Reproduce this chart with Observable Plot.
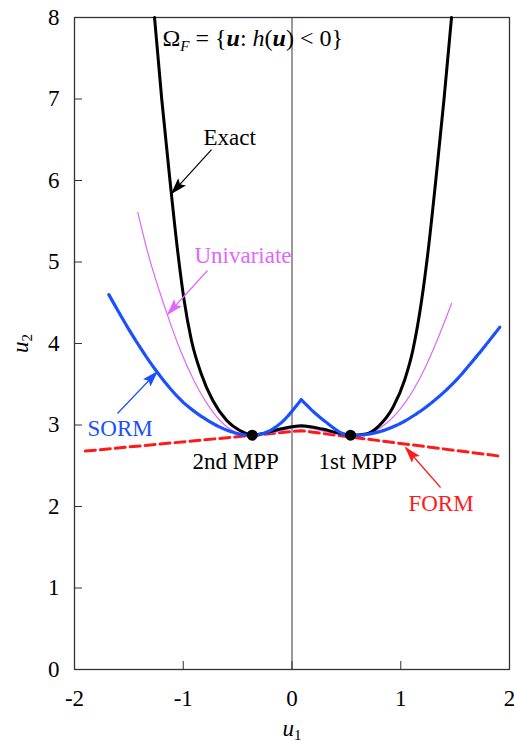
<!DOCTYPE html>
<html><head><meta charset="utf-8">
<script src="https://cdn.jsdelivr.net/npm/d3@7"></script>
<script src="https://cdn.jsdelivr.net/npm/@observablehq/plot@0.6"></script>
<style>body{margin:0;background:#fff;} svg{display:block}</style>
</head><body><div id="chart"></div>
<script>
// Axis ticks
const xTicks = [-2, -1, 0, 1, 2];
const yTicks = [0, 1, 2, 3, 4, 5, 6, 7, 8];

// Exact limit-state curve
const exactU1 = [-1.264, -1.198, -1.122, -1.052, -0.992, -0.925, -0.835, -0.728, -0.60, -0.476, -0.366, -0.25, -0.106, 0.086, 0.28, 0.43, 0.538, 0.68, 0.80, 0.93, 1.035, 1.11, 1.192, 1.252, 1.322, 1.398, 1.467];
const exactU2 = [8.0, 7.0, 6.0, 5.14, 4.53, 4.04, 3.63, 3.30, 3.055, 2.93, 2.875, 2.90, 2.95, 2.99, 2.95, 2.90, 2.875, 2.89, 2.99, 3.22, 3.55, 3.91, 4.53, 5.14, 6.0, 7.0, 8.0];

// Univariate approximation
const uniU1 = [-1.418, -1.331, -1.148, -1.025, -0.903, -0.780, -0.627, -0.474, -0.366, -0.2, 0.086, 0.37, 0.538, 0.692, 0.876, 1.043, 1.212, 1.335, 1.467];
const uniU2 = [5.61, 5.14, 4.36, 3.91, 3.55, 3.26, 3.01, 2.89, 2.87, 2.90, 2.975, 2.90, 2.87, 2.89, 3.03, 3.28, 3.67, 4.04, 4.49];

// SORM approximation (two branches meeting at a cusp)
const sormU1 = [-1.684, -1.485, -1.240, -1.025, -0.780, -0.566, -0.366, -0.106, 0.084, 0.084, 0.293, 0.538, 0.752, 0.967, 1.212, 1.488, 1.733, 1.911];
const sormU2 = [4.60, 4.14, 3.65, 3.31, 3.06, 2.92, 2.87, 3.02, 3.31, 3.31, 3.055, 2.87, 2.90, 3.00, 3.20, 3.52, 3.90, 4.20];
const sormBranch = ["L", "L", "L", "L", "L", "L", "L", "L", "L", "R", "R", "R", "R", "R", "R", "R", "R", "R"];

// FORM approximation
const formU1 = [-1.9, 0.086, 1.9];
const formU2 = [2.68, 2.93, 2.62];

// Most probable points
const mppU1 = [-0.366, 0.538];
const mppU2 = [2.875, 2.875];

// Annotation labels
const labelText = ["Exact", "Univariate", "SORM", "2nd MPP", "1st MPP", "FORM"];
const labelU1 = [-0.814, -0.897, -1.880, -0.915, 0.244, 1.071];
const labelU2 = [6.53, 5.08, 2.957, 2.552, 2.552, 2.037];
const labelColor = ["#000000", "#e066ff", "#1a50ff", "#000000", "#000000", "#ff1a1a"];

// Arrows
const arrowX1 = [-0.740, -0.777, -1.605, 1.366];
const arrowY1 = [6.38, 4.896, 3.141, 2.233];
const arrowX2 = [-1.108, -1.145, -1.237, 1.044];
const arrowY2 = [5.84, 4.356, 3.656, 2.724];
const arrowColor = ["#000000", "#e066ff", "#1a50ff", "#ff1a1a"];

// Region title
const titleText = "ΩF = {u: h(u) < 0}";
const titleU1 = [-1.191];
const titleU2 = [7.742];

const toPts = (xs, ys) => xs.map((x, i) => ({u1: x, u2: ys[i]}));
const exact = toPts(exactU1, exactU2);
const uni = toPts(uniU1, uniU2);
const sorm = sormU1.map((x, i) => ({u1: x, u2: sormU2[i], branch: sormBranch[i]}));
const form = toPts(formU1, formU2);
const mpp = toPts(mppU1, mppU2);
const labels = labelText.map((t, i) => ({text: t, u1: labelU1[i], u2: labelU2[i], color: labelColor[i]}));
const arrows = arrowColor.map((c, i) => ({x1: arrowX1[i], y1: arrowY1[i], x2: arrowX2[i], y2: arrowY2[i], color: c}));
const title = [{u1: titleU1[0], u2: titleU2[0], text: titleText}];

const FS = 23;
const plot = Plot.plot({
  width: 514, height: 746,
  marginLeft: 74, marginRight: 5, marginTop: 17, marginBottom: 77,
  style: {fontFamily: "'Liberation Serif', 'Times New Roman', serif", fontSize: FS + "px", background: "#fff", color: "#000", overflow: "visible"},
  x: {domain: [-2, 2], label: null},
  y: {domain: [0, 8], label: null},
  color: {type: "identity"},
  marks: [
    Plot.ruleX([0], {stroke: "#777", strokeWidth: 1.5}),
    Plot.axisX(xTicks, {tickSize: 0, tickPadding: 20, tickFormat: d => String(d), label: "u1", labelAnchor: "center", labelOffset: 66, fontSize: FS}),
    Plot.axisX([-1, 0, 1], {tickSize: -8, tickFormat: () => "", label: null, stroke: "#333"}),
    Plot.axisY(yTicks, {tickSize: 0, tickPadding: 15, tickFormat: d => String(d), label: "u2", labelAnchor: "center", labelOffset: 63, fontSize: FS}),
    Plot.axisY(yTicks.slice(1, -1), {tickSize: -8, tickFormat: () => "", label: null, stroke: "#333"}),
    Plot.frame({stroke: "#333", strokeWidth: 1.3}),
    Plot.line(form, {x: "u1", y: "u2", stroke: "#ff1a1a", strokeWidth: 3, strokeDasharray: "10,5"}),
    Plot.line(uni, {x: "u1", y: "u2", stroke: "#e066ff", strokeWidth: 1.2, curve: "monotone-x"}),
    Plot.line(exact, {x: "u1", y: "u2", stroke: "#000", strokeWidth: 3, curve: "monotone-x"}),
    Plot.line(sorm, {x: "u1", y: "u2", z: "branch", stroke: "#1a50ff", strokeWidth: 3.2, curve: "monotone-x", strokeDasharray: "14,1.2,3,1.2"}),
    Plot.dot(mpp, {x: "u1", y: "u2", r: 5.5, fill: "#000"}),
    ...arrows.map(a => Plot.link([a], {x1: "x1", y1: "y1", x2: "x2", y2: "y2", stroke: a.color, strokeWidth: 1.2})),
    Plot.text(labels, {x: "u1", y: "u2", text: "text", fill: "color", textAnchor: "start", fontSize: FS}),
    Plot.text(title, {x: "u1", y: "u2", text: "text", textAnchor: "start", fontSize: 24})
  ]
});

const svg = d3.select(plot);
// Filled arrowheads
const defs = svg.insert("defs", ":first-child");
const linkGroups = svg.selectAll('g[aria-label="link"]').nodes();
arrows.forEach((a, i) => {
  const id = "arrowhead-" + i;
  defs.append("marker")
    .attr("id", id)
    .attr("viewBox", "0 0 16 10")
    .attr("refX", 15).attr("refY", 5)
    .attr("markerWidth", 17).attr("markerHeight", 10.5)
    .attr("markerUnits", "userSpaceOnUse")
    .attr("orient", "auto")
    .append("path").attr("d", "M0,0L16,5L0,10L3,5Z").attr("fill", a.color);
  if (linkGroups[i]) d3.select(linkGroups[i]).selectAll("path,line").attr("marker-end", `url(#${id})`);
});

// Formatted region title
svg.selectAll("text").filter(function() { return this.textContent === titleText; }).each(function() {
  const tt = d3.select(this);
  tt.text("");
  tt.append("tspan").text("Ω");
  tt.append("tspan").attr("font-style", "italic").attr("font-size", "15px").attr("dy", "0.3em").text("F");
  tt.append("tspan").attr("dy", "-0.2em").text(" = {");
  tt.append("tspan").attr("font-style", "italic").attr("font-weight", "bold").text("u");
  tt.append("tspan").text(": ");
  tt.append("tspan").attr("font-style", "italic").text("h");
  tt.append("tspan").text("(");
  tt.append("tspan").attr("font-style", "italic").attr("font-weight", "bold").text("u");
  tt.append("tspan").text(") < 0}");
});

// Axis labels with subscripts
function subLabel(sel, base, sub) {
  sel.text("");
  sel.append("tspan").attr("font-style", "italic").text(base);
  sel.append("tspan").attr("font-size", "15px").attr("dy", "0.3em").text(sub);
}
subLabel(svg.select('g[aria-label="x-axis label"] text'), "u", "1");
subLabel(svg.select('g[aria-label="y-axis label"] text'), "u", "2");

document.getElementById("chart").appendChild(plot);
</script>
</body></html>
